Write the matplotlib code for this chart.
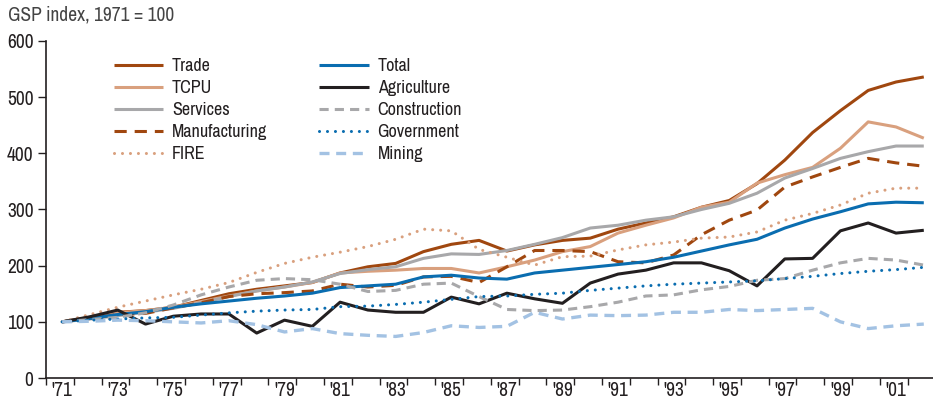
"""GSP index by industry, 1971 = 100."""
import matplotlib
matplotlib.use("Agg")
import matplotlib.pyplot as plt

plt.rcParams["font.family"] = ["Archivo Narrow", "DejaVu Sans"]

years = list(range(1971, 2003))

trade = [100, 108, 117, 120, 126, 138, 150, 158, 164, 170, 187, 198, 204, 225, 238, 245,
         226, 237, 245, 249, 265, 276, 287, 304, 316, 346, 388, 437, 476, 512, 527, 536]
tcpu = [100, 108, 116, 120, 126, 136, 146, 155, 162, 170, 187, 190, 192, 195, 195, 187,
        198, 210, 225, 234, 258, 272, 285, 304, 313, 347, 362, 375, 409, 456, 447, 427]
services = [100, 105, 111, 117, 124, 134, 145, 155, 162, 171, 186, 193, 198, 213, 221, 220,
            227, 238, 250, 267, 272, 281, 287, 300, 311, 329, 356, 373, 391, 403, 413, 413]
manufacturing = [100, 106, 113, 115, 125, 134, 145, 150, 152, 155, 167, 162, 165, 180, 181, 170,
                 198, 227, 227, 225, 207, 205, 219, 255, 281, 299, 340, 358, 375, 391, 383, 377]
fire = [100, 113, 126, 137, 148, 158, 170, 188, 204, 215, 224, 234, 247, 265, 262, 229,
        215, 201, 216, 217, 228, 237, 242, 249, 251, 260, 281, 293, 308, 329, 338, 338]
total = [100, 106, 113, 118, 126, 132, 137, 142, 146, 151, 161, 164, 167, 180, 183, 178,
         176, 187, 192, 197, 202, 207, 215, 226, 237, 247, 267, 283, 296, 310, 313, 312]
agriculture = [100, 109, 121, 96, 110, 114, 114, 80, 103, 92, 135, 121, 117, 117, 144, 132,
               151, 141, 133, 169, 185, 192, 205, 205, 191, 164, 212, 213, 262, 276, 258, 263]
construction = [100, 104, 108, 116, 130, 148, 162, 174, 177, 175, 167, 154, 156, 167, 169, 145,
                122, 120, 121, 127, 135, 146, 148, 157, 163, 174, 177, 192, 205, 213, 210, 201]
government = [100, 103, 105, 107, 108, 112, 116, 119, 121, 122, 127, 128, 131, 135, 140, 145,
              146, 149, 151, 156, 160, 164, 167, 169, 171, 173, 177, 181, 186, 190, 193, 197]
mining = [100, 101, 103, 102, 100, 98, 102, 95, 82, 88, 79, 76, 74, 81, 93, 90,
          92, 117, 105, 112, 111, 112, 117, 117, 122, 120, 122, 124, 100, 88, 93, 96]

BROWN = "#A0470F"
TAN = "#D9A07E"
GRAY = "#A8A8AA"
BLUE = "#0A6DB0"
BLACK = "#231F20"
LBLUE = "#A3C2E3"
INK = "#231F20"

series = [
    ("Trade",         trade,         dict(color=BROWN, lw=2.2)),
    ("TCPU",          tcpu,          dict(color=TAN, lw=2.2)),
    ("Services",      services,      dict(color=GRAY, lw=2.2)),
    ("Manufacturing", manufacturing, dict(color=BROWN, lw=2.2, ls=(0, (4, 2.6)))),
    ("FIRE",          fire,          dict(color=TAN, lw=2.2, ls=(0, (0.01, 2.6)),
                                          dash_capstyle="round")),
    ("Total",         total,         dict(color=BLUE, lw=2.2)),
    ("Agriculture",   agriculture,   dict(color=BLACK, lw=2.2)),
    ("Construction",  construction,  dict(color=GRAY, lw=2.2, ls=(0, (3, 2)))),
    ("Government",    government,    dict(color=BLUE, lw=2.2, ls=(0, (0.01, 2.6)),
                                          dash_capstyle="round")),
    ("Mining",        mining,        dict(color=LBLUE, lw=2.4, ls=(0, (3, 2)))),
]

fig = plt.figure(figsize=(9.33, 4.0), dpi=100)
ax = fig.add_axes([46 / 933, 1 - 378 / 400, 1 - 46 / 933, (378 - 41) / 400])

for label, vals, style in series:
    ax.plot(years, vals, label=label, solid_capstyle="butt", **style)

# x: data at year, boundary ticks offset to the left
x0 = 1970.42
ax.set_xlim(x0, 1971 + (933 - 62) / 27.8)
ax.set_ylim(0, 600)
ax.set_xticks([x0 + k for k in range(32)])
ax.set_xticklabels([])
ax.set_xticks(years[::2], minor=True)
ax.set_xticklabels([f"'{y % 100:02d}" for y in years[::2]], minor=True)
ax.tick_params(axis="x", which="major", direction="out", length=5, width=1, color=INK)
ax.tick_params(axis="x", which="minor", length=0, pad=2, labelsize=14, labelcolor=INK)
ax.set_yticks(range(0, 601, 100))
ax.tick_params(axis="y", direction="out", length=6, width=1, color=INK,
               labelsize=14, labelcolor=INK, pad=3)

for side in ("top", "right"):
    ax.spines[side].set_visible(False)
for side in ("left", "bottom"):
    ax.spines[side].set_color(INK)
    ax.spines[side].set_linewidth(1.2)

fig.text(8 / 933, 1 - 15 / 400, "GSP index, 1971 = 100", fontsize=14, color="#444444",
         va="center", ha="left")

leg = ax.legend(ncol=2, loc="upper left", bbox_to_anchor=(112 / 933 - 46 / 887, 0.970),
                frameon=False, fontsize=13, handlelength=2.72, handletextpad=0.5,
                labelspacing=0.33, columnspacing=2.9, borderaxespad=0)
for t in leg.get_texts():
    t.set_color(INK)

fig.savefig("out.png", dpi=100)
